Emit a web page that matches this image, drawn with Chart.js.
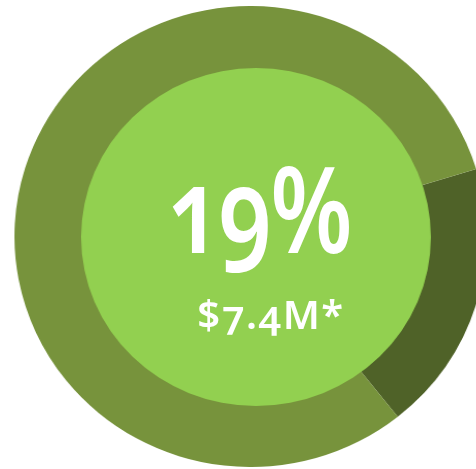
<!DOCTYPE html>
<html>
<head>
<meta charset="utf-8">
<script src="https://cdn.jsdelivr.net/npm/chart.js@4"></script>
<style>
  html, body { margin: 0; padding: 0; background: #fff; overflow: hidden; }
  body { width: 476px; height: 469px; position: relative; }
  .box { position: absolute; transform-origin: 50% 50%; }
  #ringBox { left: 19.5px; top: 6px; width: 461px; height: 461px; transform: scaleX(1.024); }
  #discBox { left: 87px; top: 68px; width: 338px; height: 338px; transform: scaleX(1.035); }
  .label {
    position: absolute; width: 300px; text-align: center; color: #fff;
    font-family: "Noto Sans", "Open Sans", sans-serif; font-weight: 600; line-height: 1;
    font-feature-settings: "onum" 1; font-variant-numeric: oldstyle-nums; white-space: nowrap;
    transform-origin: 50% 50%;
  }
  #pct { left: 109px; top: 147px; font-size: 120px; letter-spacing: -2px; transform: scaleX(0.78); }
  #amt { left: 121px; top: 294px; font-size: 40px; letter-spacing: 1.5px; }
</style>
</head>
<body>
<div class="box" id="ringBox"><canvas id="ring"></canvas></div>
<div class="box" id="discBox"><canvas id="disc"></canvas></div>
<div class="label" id="pct"></div>
<div class="label" id="amt"></div>
<script>
// Data
const segments = ['Share', 'Rest'];
const shareValues = [19, 81];
const centerValue = [100];
const pctLabel = '19%';
const amountLabel = '$7.4M*';

// Colours
const darkOlive = '#4f6228';
const olive = '#77933c';
const lightGreen = '#92d050';

document.getElementById('pct').textContent = pctLabel;
document.getElementById('amt').textContent = amountLabel;

const baseOptions = {
  responsive: true,
  maintainAspectRatio: false,
  animation: false,
  layout: { padding: 0 },
  plugins: {
    legend: { display: false },
    tooltip: { enabled: false }
  }
};

// Outer ring with the 19% share
new Chart(document.getElementById('ring'), {
  type: 'doughnut',
  data: {
    labels: segments,
    datasets: [{
      data: shareValues,
      backgroundColor: [darkOlive, olive],
      borderWidth: 0
    }]
  },
  options: { ...baseOptions, cutout: '70%', rotation: 73 }
});

// Light centre disc, sits slightly right of the ring centre
new Chart(document.getElementById('disc'), {
  type: 'pie',
  data: {
    labels: ['Centre'],
    datasets: [{
      data: centerValue,
      backgroundColor: [lightGreen],
      borderWidth: 0
    }]
  },
  options: baseOptions
});
</script>
</body>
</html>
